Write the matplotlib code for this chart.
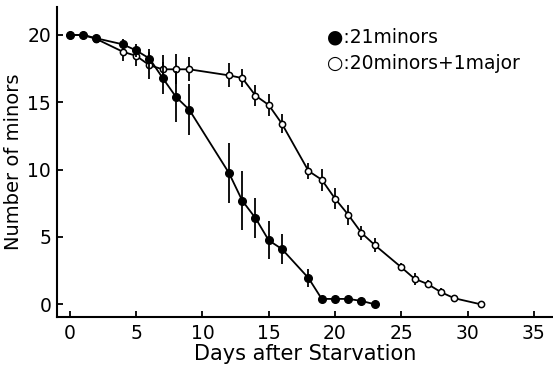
import numpy as np
import matplotlib
matplotlib.use("Agg")
import matplotlib.pyplot as plt

# 21 minors (filled circles)
days_a = [0, 1, 2, 4, 5, 6, 7, 8, 9, 12, 13, 14, 15, 16, 18, 19, 20, 21, 22, 23]
minors_a = [20, 20, 19.75, 19.3, 18.85, 18.25, 16.8, 15.4, 14.45, 9.75, 7.7, 6.4, 4.75, 4.1, 1.95, 0.4, 0.4, 0.4, 0.25, 0]
err_a = [0, 0, 0, 0.4, 0.5, 0.7, 1.2, 1.9, 1.9, 2.2, 2.2, 1.5, 1.4, 1.1, 0.65, 0, 0, 0, 0, 0]

# 20 minors + 1 major (open circles)
days_b = [0, 1, 2, 4, 5, 6, 7, 8, 9, 12, 13, 14, 15, 16, 18, 19, 20, 21, 22, 23, 25, 26, 27, 28, 29, 31]
minors_b = [20, 20, 19.7, 18.75, 18.45, 17.75, 17.45, 17.45, 17.45, 17.0, 16.8, 15.5, 14.8, 13.4,
            9.9, 9.25, 7.85, 6.65, 5.3, 4.4, 2.75, 1.9, 1.5, 0.9, 0.45, 0]
err_b = [0, 0, 0, 0.7, 0.75, 1.0, 1.05, 1.1, 0.9, 0.9, 0.7, 0.8, 0.85, 0.7,
         0.6, 0.8, 0.8, 0.75, 0.55, 0.55, 0.3, 0.45, 0.3, 0.3, 0.2, 0]

plt.rcParams['font.family'] = ['DejaVu Sans']

fig = plt.figure(figsize=(5.53, 3.71), dpi=100)
ax = fig.add_axes([0.1025, 0.1464, 0.8975, 0.8356])

ax.errorbar(days_b, minors_b, yerr=err_b, color='black', lw=1.3, elinewidth=1.3,
            marker='o', ms=4.5, mfc='white', mec='black', mew=1.1, capsize=0, zorder=2)
ax.errorbar(days_a, minors_a, yerr=err_a, color='black', lw=1.3, elinewidth=1.3,
            marker='o', ms=5.5, mfc='black', mec='black', capsize=0, zorder=3)

ax.set_xlim(-1, 36.45)
ax.set_ylim(-0.92, 22.1)
ax.set_xticks([0, 5, 10, 15, 20, 25, 30, 35])
ax.set_yticks([0, 5, 10, 15, 20])
ax.spines['top'].set_visible(False)
ax.spines['right'].set_visible(False)
ax.spines['left'].set_linewidth(1.5)
ax.spines['bottom'].set_linewidth(1.5)
ax.tick_params(direction='in', length=4, width=1.3, labelsize=13.5, pad=5)
ax.tick_params(axis='y', pad=4)

ax.set_xlabel('Days after Starvation', fontsize=15, labelpad=1)
ax.set_ylabel('Number of minors', fontsize=14, labelpad=3)

ax.text(19.4, 19.85, '\u25cf:21minors', fontsize=13.5, va='center')
ax.text(19.4, 17.9, '\u25cb:20minors+1major', fontsize=13.5, va='center')

fig.savefig('out.png', dpi=100)
